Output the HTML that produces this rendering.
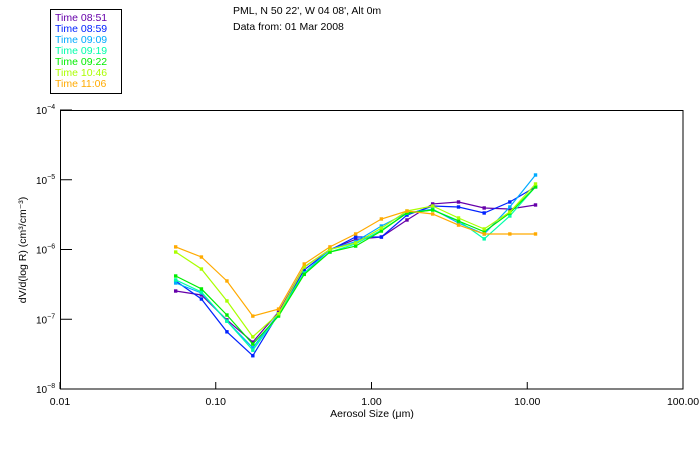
<!DOCTYPE html>
<html><head><meta charset="utf-8"><style>
html,body{margin:0;padding:0;background:#fff;}
svg{display:block;font-family:"Liberation Sans",sans-serif;}
</style></head><body>
<svg id="chart" width="700" height="450" viewBox="0 0 700 450">
<rect x="0" y="0" width="700" height="450" fill="#fff"/>
<g>
<rect x="50.5" y="9.5" width="71" height="84" fill="none" stroke="#000" stroke-width="1"/>
<g id="legend-items" font-size="10.5"></g>
</g>
<text x="233" y="14" font-size="10.5" fill="#000">PML, N 50 22', W 04 08', Alt 0m</text>
<text x="233" y="30" font-size="10.5" fill="#000">Data from: 01 Mar 2008</text>
<rect x="60.5" y="110.5" width="622.5" height="278.5" fill="none" stroke="#000" stroke-width="1"/>
<g id="axes"></g>
<g id="series"></g>
<text x="372" y="417" font-size="10.5" text-anchor="middle" fill="#000">Aerosol Size (μm)</text>
<text transform="translate(26,250) rotate(-90)" font-size="10.5" text-anchor="middle" fill="#000">dV/d(log R) (cm³/cm⁻³)</text>
</svg>
<script>
const sizes=[0.0553,0.0809,0.118,0.173,0.253,0.370,0.541,0.791,1.157,1.69,2.47,3.62,5.29,7.73,11.3];
const seriesNames=["Time 08:51","Time 08:59","Time 09:09","Time 09:19","Time 09:22","Time 10:46","Time 11:06"];
const s0851=[2.54e-7,2.23e-7,9.8e-8,4.7e-8,1.27e-7,5.6e-7,1.0e-6,1.4e-6,1.51e-6,2.65e-6,4.5e-6,4.8e-6,3.94e-6,3.81e-6,4.35e-6];
const s0859=[3.54e-7,1.95e-7,6.6e-8,3.0e-8,1.2e-7,5.1e-7,9.8e-7,1.51e-6,1.51e-6,3.12e-6,4.2e-6,4.07e-6,3.34e-6,4.8e-6,7.9e-6];
const s0909=[3.31e-7,2.38e-7,9.4e-8,3.9e-8,1.2e-7,4.6e-7,1.0e-6,1.3e-6,2.17e-6,3.34e-6,3.8e-6,2.4e-6,1.67e-6,4.07e-6,1.17e-5];
const s0919=[3.66e-7,2.46e-7,9.4e-8,3.6e-8,1.15e-7,4.6e-7,9.2e-7,1.2e-6,1.9e-6,3.3e-6,3.7e-6,2.6e-6,1.42e-6,3.02e-6,7.9e-6];
const s0922=[4.17e-7,2.72e-7,1.15e-7,4.4e-8,1.11e-7,4.4e-7,9.2e-7,1.12e-6,1.84e-6,3.34e-6,3.68e-6,2.56e-6,1.8e-6,3.34e-6,7.9e-6];
const s1046=[9.2e-7,5.25e-7,1.83e-7,5.6e-8,1.2e-7,5.6e-7,1.0e-6,1.24e-6,2.03e-6,3.56e-6,4.2e-6,2.83e-6,1.97e-6,3.45e-6,8.7e-6];
const s1106=[1.09e-6,7.8e-7,3.54e-7,1.11e-7,1.4e-7,6.2e-7,1.09e-6,1.67e-6,2.74e-6,3.56e-6,3.23e-6,2.24e-6,1.67e-6,1.67e-6,1.67e-6];
const xTicks=[0.01,0.1,1,10,100];
const xTickLabels=["0.01","0.10","1.00","10.00","100.00"];
const yTicks=[1e-4,1e-5,1e-6,1e-7,1e-8];
const yTickExps=["-4","-5","-6","-7","-8"];
const allSeries=[s0851,s0859,s0909,s0919,s0922,s1046,s1106];
const colors=["#6600aa","#0022ff","#00aaff","#00ffaa","#00ee00","#aaff00","#ffaa00"];
const NS="http://www.w3.org/2000/svg";
const L=60,R=683,T=110,B=389;
function xs(v){return L+(Math.log10(v)+2)/4*(R-L);}
function ys(v){return T+(-4-Math.log10(v))/4*(B-T);}
function mk(tag,attrs,parent){const e=document.createElementNS(NS,tag);for(const k in attrs)e.setAttribute(k,attrs[k]);parent.appendChild(e);return e;}
const axes=document.getElementById('axes');
xTicks.forEach((t,i)=>{
  const x=xs(t);
  const tk=mk('line',{x1:x,x2:x,y1:B,y2:B-7,stroke:'#000'},axes);
  
  
  const lb=mk('text',{x:x,y:405,'font-size':'10.5','text-anchor':'middle'},axes);
  lb.textContent=xTickLabels[i];
  
  
});
yTicks.forEach((t,i)=>{
  const y=ys(t);
  const tk=mk('line',{x1:L,x2:L+12,y1:y,y2:y,stroke:'#000'},axes);
  
  
  const lb=mk('text',{x:36,y:y+4,'font-size':'10'},axes);
  lb.textContent='10';
  const sup=mk('tspan',{dy:'-5','font-size':'7'},lb);
  sup.textContent='−'+yTickExps[i].slice(1);
  
  
});
const sg=document.getElementById('series');
allSeries.forEach((s,si)=>{
  const g=mk('g',{},sg);
  
  
  const pts=s.map((v,i)=>xs(sizes[i]).toFixed(1)+','+ys(v).toFixed(1)).join(' ');
  const pl=mk('polyline',{points:pts,fill:'none',stroke:colors[si],'stroke-width':'1.2'},g);
  
  
  s.forEach((v,i)=>{
    const r=mk('rect',{x:xs(sizes[i])-1.7,y:ys(v)-1.7,width:3.4,height:3.4,fill:colors[si]},g);
    
    
  });
});
const lg=document.getElementById('legend-items');
seriesNames.forEach((n,i)=>{
  const t=mk('text',{x:55,y:21+i*11,fill:colors[i]},lg);
  t.textContent=n;
  
  
});
</script>
</body></html>
